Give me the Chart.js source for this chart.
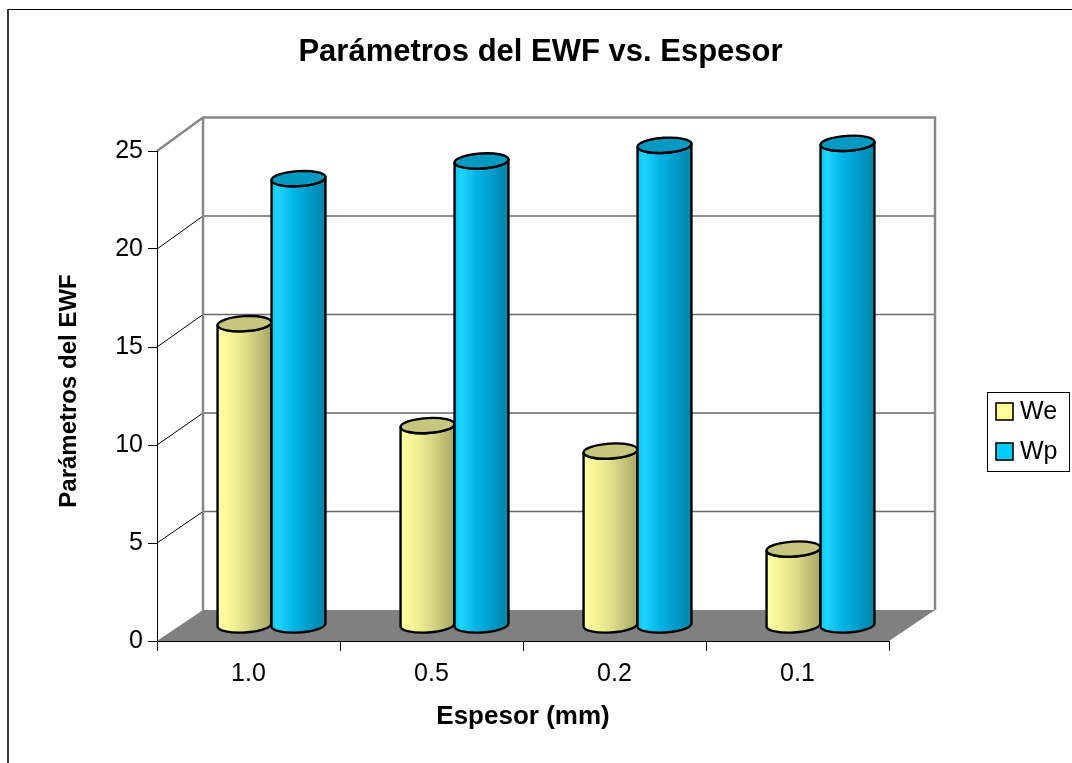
<!DOCTYPE html>
<html>
<head>
<meta charset="utf-8">
<title>Parámetros del EWF vs. Espesor</title>
<script src="https://cdn.jsdelivr.net/npm/chart.js@4/dist/chart.umd.min.js"></script>
<style>
  html, body { margin: 0; padding: 0; background: #ffffff; }
  canvas { display: block; }
</style>
</head>
<body>
<canvas id="chart" width="1072" height="763"></canvas>
<script>
// ---- data ----
const categories = ['1.0', '0.5', '0.2', '0.1'];
const weValues = [15.4, 10.2, 8.9, 3.9];
const wpValues = [22.8, 23.7, 24.5, 24.6];
const seriesNames = ['We', 'Wp'];
const yTicks = [0, 5, 10, 15, 20, 25];
const chartTitle = 'Parámetros del EWF vs. Espesor';
const yAxisTitle = 'Parámetros del EWF';
const xAxisTitle = 'Espesor (mm)';

// ---- styling ----
const FONT = "'Liberation Sans', Arial, Helvetica, sans-serif";
const DEPTH_X = 46;        // horizontal offset of the back wall
const DEPTH_Y = -31;       // vertical offset of the back wall
const BACK_SCALE = 1.005;  // slight perspective growth of the back plane
const ELLIPSE_RY = 7.5;
const ELLIPSE_ROT = -0.06;

const seriesStyle = [
  { swatch: '#FFFF99', top: '#C6C67E',
    stops: [[0, '#FFFFA6'], [0.25, '#F4F496'], [0.55, '#DCDC88'], [0.85, '#B9B972'], [1, '#A6A666']] },
  { swatch: '#00CCFF', top: '#0099C2',
    stops: [[0, '#00C8F8'], [0.12, '#22D4FF'], [0.4, '#00B4E6'], [0.75, '#0098C4'], [1, '#0084AA']] }
];

// back wall, floor and connecting lines of the 3D box
const box3d = {
  id: 'box3d',
  beforeDraw(chart) {
    const { ctx, chartArea: a } = chart;
    const ys = chart.scales.y;
    const y0 = ys.getPixelForValue(yTicks[0]);
    const backY = v => y0 + DEPTH_Y - (y0 - ys.getPixelForValue(v)) * BACK_SCALE;
    const L = a.left + DEPTH_X, R = a.right + DEPTH_X;
    const top = yTicks[yTicks.length - 1];

    ctx.save();
    // outer frame of the figure
    ctx.strokeStyle = '#3a3a3a';
    ctx.lineWidth = 2;
    ctx.beginPath(); ctx.moveTo(8, 763); ctx.lineTo(8, 9); ctx.stroke();
    ctx.strokeStyle = '#000';
    ctx.lineWidth = 1;
    ctx.beginPath(); ctx.moveTo(8, 9.5); ctx.lineTo(1072, 9.5); ctx.stroke();

    // floor
    ctx.fillStyle = '#808080';
    ctx.beginPath();
    ctx.moveTo(a.left, y0);
    ctx.lineTo(a.right, y0);
    ctx.lineTo(R, backY(0));
    ctx.lineTo(L, backY(0));
    ctx.closePath();
    ctx.fill();

    // gridlines on the back wall
    ctx.strokeStyle = '#6a6a6a';
    ctx.lineWidth = 1.5;
    yTicks.forEach(v => {
      if (v === yTicks[0] || v === top) return;
      ctx.beginPath(); ctx.moveTo(L, backY(v)); ctx.lineTo(R, backY(v)); ctx.stroke();
    });

    // connectors from the front axis ticks to the wall
    ctx.strokeStyle = '#000';
    ctx.lineWidth = 1;
    yTicks.forEach(v => {
      if (v === yTicks[0] || v === top) return;
      ctx.beginPath(); ctx.moveTo(a.left, ys.getPixelForValue(v)); ctx.lineTo(L, backY(v)); ctx.stroke();
    });

    // wall outline
    ctx.strokeStyle = '#878787';
    ctx.lineWidth = 2.5;
    ctx.beginPath();
    ctx.moveTo(a.left, ys.getPixelForValue(top));
    ctx.lineTo(L, backY(top));
    ctx.lineTo(R, backY(top));
    ctx.lineTo(R, backY(0));
    ctx.moveTo(L, backY(top));
    ctx.lineTo(L, backY(0));
    ctx.stroke();
    ctx.restore();
  }
};

// cylinders drawn from the bar elements' positions
const cylinders = {
  id: 'cylinders',
  beforeDatasetDraw() { return false; },
  afterDatasetsDraw(chart) {
    const { ctx } = chart;
    const dx = DEPTH_X / 2, dy = DEPTH_Y / 2;
    chart.data.datasets.forEach((ds, di) => {
      const meta = chart.getDatasetMeta(di);
      const st = seriesStyle[di];
      meta.data.forEach(bar => {
        const p = bar.getProps(['x', 'y', 'base', 'width'], true);
        const cx = p.x + dx, rx = p.width / 2;
        const ty = p.y + dy, by = p.base + dy;
        ctx.save();
        const g = ctx.createLinearGradient(cx - rx, 0, cx + rx, 0);
        st.stops.forEach(s => g.addColorStop(s[0], s[1]));
        ctx.beginPath();
        ctx.ellipse(cx, by, rx, ELLIPSE_RY, ELLIPSE_ROT, Math.PI, 0, true);
        ctx.ellipse(cx, ty, rx, ELLIPSE_RY, ELLIPSE_ROT, 0, Math.PI, false);
        ctx.closePath();
        ctx.fillStyle = g;
        ctx.fill();
        ctx.lineWidth = 2.4;
        ctx.strokeStyle = '#000';
        ctx.lineJoin = 'round';
        ctx.stroke();
        // top face
        ctx.beginPath();
        ctx.ellipse(cx, ty, rx, ELLIPSE_RY, ELLIPSE_ROT, 0, Math.PI * 2);
        ctx.fillStyle = st.top;
        ctx.fill();
        ctx.stroke();
        ctx.restore();
      });
    });
  }
};

// chart title, vertical axis title and legend
const texts = {
  id: 'texts',
  afterDraw(chart) {
    const { ctx } = chart;
    ctx.save();
    ctx.fillStyle = '#000';
    ctx.textBaseline = 'middle';
    ctx.textAlign = 'center';
    ctx.font = `bold 31px ${FONT}`;
    ctx.fillText(chartTitle, 540.5, 52);

    ctx.save();
    ctx.translate(69, 391);
    ctx.rotate(-Math.PI / 2);
    ctx.font = `bold 24px ${FONT}`;
    ctx.fillText(yAxisTitle, 0, 0);
    ctx.restore();

    // legend
    ctx.strokeStyle = '#000';
    ctx.lineWidth = 1;
    ctx.strokeRect(987.5, 392.5, 82, 79);
    ctx.textAlign = 'left';
    ctx.font = `25px ${FONT}`;
    chart.data.datasets.forEach((ds, i) => {
      const yy = 403 + i * 40;
      ctx.fillStyle = seriesStyle[i].swatch;
      ctx.fillRect(996, yy, 17, 17);
      ctx.lineWidth = 1.6;
      ctx.strokeRect(996, yy, 17, 17);
      ctx.fillStyle = '#000';
      ctx.fillText(ds.label, 1020, yy + 9);
    });
    ctx.restore();
  }
};

new Chart(document.getElementById('chart'), {
  type: 'bar',
  data: {
    labels: categories,
    datasets: [
      { label: seriesNames[0], data: weValues, backgroundColor: seriesStyle[0].swatch },
      { label: seriesNames[1], data: wpValues, backgroundColor: seriesStyle[1].swatch }
    ]
  },
  options: {
    responsive: false,
    animation: false,
    devicePixelRatio: 1,
    categoryPercentage: 0.59,
    barPercentage: 1.0,
    layout: { padding: { left: 50, right: 183, top: 151, bottom: 29 } },
    plugins: {
      legend: { display: false },
      title: { display: false },
      tooltip: { enabled: false }
    },
    scales: {
      x: {
        offset: true,
        grid: { display: true, drawOnChartArea: false, drawTicks: true, tickLength: 10, color: '#000', offset: true },
        border: { display: true, color: '#000', width: 1 },
        ticks: { color: '#000', font: { family: FONT, size: 25 }, padding: 8, maxRotation: 0 },
        title: { display: true, text: xAxisTitle, color: '#000',
                 font: { family: FONT, size: 26, weight: 'bold' }, padding: { top: 0, bottom: 2 } },
        afterFit(scale) { scale.height = 93; }
      },
      y: {
        min: yTicks[0],
        max: yTicks[yTicks.length - 1],
        grid: { display: true, drawOnChartArea: false, drawTicks: true, tickLength: 9, color: '#000' },
        border: { display: true, color: '#000', width: 1 },
        ticks: { stepSize: yTicks[1] - yTicks[0], color: '#000', font: { family: FONT, size: 25 }, padding: 5 },
        afterFit(scale) { scale.width = 107; }
      }
    }
  },
  plugins: [box3d, cylinders, texts]
});
</script>
</body>
</html>
